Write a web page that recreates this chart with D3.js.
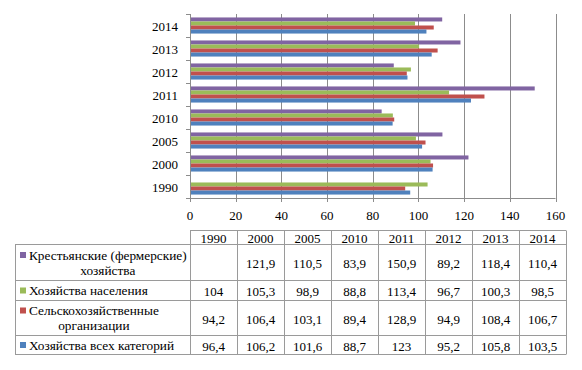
<!DOCTYPE html>
<html><head><meta charset="utf-8">
<script src="https://cdn.jsdelivr.net/npm/d3@7"></script>
<style>body{margin:0;background:#fff}svg{display:block}</style>
</head><body>
<script>
const years = ["1990","2000","2005","2010","2011","2012","2013","2014"];
const seriesNames = ["Крестьянские (фермерские) хозяйства","Хозяйства населения","Сельскохозяйственные организации","Хозяйства всех категорий"];
const seriesLines = [["Крестьянские (фермерские)","хозяйства"],["Хозяйства населения"],["Сельскохозяйственные","организации"],["Хозяйства всех категорий"]];
const seriesColors = ["#8064A2","#9BBB59","#C0504D","#4F81BD"];
const farms = [null,121.9,110.5,83.9,150.9,89.2,118.4,110.4];
const households = [104,105.3,98.9,88.8,113.4,96.7,100.3,98.5];
const agroOrgs = [94.2,106.4,103.1,89.4,128.9,94.9,108.4,106.7];
const allFarms = [96.4,106.2,101.6,88.7,123,95.2,105.8,103.5];
const seriesValues = [farms,households,agroOrgs,allFarms];
const xTicks = [0,20,40,60,80,100,120,140,160];

const FONT="Liberation Serif";
const W=582,H=370;
const svg=d3.select("body").append("svg").attr("width",W).attr("height",H)
  .attr("font-family",FONT);
const x=d3.scaleLinear().domain([0,160]).range([190,555.5]);
const y=d3.scaleBand().domain(years.slice().reverse()).range([14,198]).paddingInner(0.3).paddingOuter(0.15);
const yOuter=d3.scaleBand().domain(years.slice().reverse()).range([14,198]);
const ySub=d3.scaleBand().domain(d3.range(4)).range([0,y.bandwidth()]);
const gc="#8c8c8c";

// gridlines
svg.append("g").selectAll("line").data(xTicks.slice(1)).join("line")
  .attr("x1",d=>Math.round(x(d))+0.5).attr("x2",d=>Math.round(x(d))+0.5).attr("y1",14).attr("y2",198)
  .attr("stroke",gc).attr("stroke-width",1);

// bars
const g=svg.append("g");
years.forEach((yr,i)=>{
  seriesValues.forEach((vals,s)=>{
    const v=vals[i]; if(v==null) return;
    g.append("rect").attr("x",x(0)).attr("y",y(yr)+ySub(s))
     .attr("width",x(v)-x(0)).attr("height",ySub.bandwidth())
     .attr("fill",seriesColors[s]);
  });
});

// left axis
const ya=svg.append("g").attr("transform","translate(190,0)");
ya.append("line").attr("x1",0.5).attr("x2",0.5).attr("y1",14).attr("y2",198).attr("stroke",gc);
const bounds=yOuter.domain().map(d=>yOuter(d)).concat([198]);
ya.selectAll("line.t").data(bounds).join("line").attr("class","t")
  .attr("x1",-4).attr("x2",0.5).attr("y1",d=>Math.round(d)+0.5).attr("y2",d=>Math.round(d)+0.5).attr("stroke",gc);
ya.selectAll("text").data(years).join("text")
  .attr("x",-12).attr("y",d=>yOuter(d)+yOuter.bandwidth()/2+1).attr("dy","0.35em")
  .attr("text-anchor","end").attr("font-size",13).text(d=>d);

// bottom axis
const xa=svg.append("g");
xa.append("line").attr("x1",190).attr("x2",x(160)).attr("y1",198.5).attr("y2",198.5).attr("stroke",gc);
xa.selectAll("line.t").data(xTicks).join("line").attr("class","t")
  .attr("x1",d=>Math.round(x(d))+0.5).attr("x2",d=>Math.round(x(d))+0.5).attr("y1",198).attr("y2",202).attr("stroke",gc);
xa.selectAll("text").data(xTicks).join("text")
  .attr("x",d=>x(d)).attr("y",215).attr("dy","0.35em").attr("text-anchor","middle").attr("font-size",13).text(d=>d);

// data table
const tLeft=15, cLeft=190, cRight=566;
const colW=(cRight-cLeft)/years.length;
const rowTops=[230.5,244.5,280.5,300.5,335.5,354.5];
const tb=svg.append("g");
const bc="#9a9a9a";
tb.append("line").attr("x1",cLeft).attr("x2",cRight).attr("y1",rowTops[0]).attr("y2",rowTops[0]).attr("stroke",bc);
rowTops.slice(1).forEach(yy=>tb.append("line").attr("x1",tLeft).attr("x2",cRight).attr("y1",yy).attr("y2",yy).attr("stroke",bc));
tb.append("line").attr("x1",tLeft+0.5).attr("x2",tLeft+0.5).attr("y1",rowTops[1]).attr("y2",rowTops[5]).attr("stroke",bc);
d3.range(years.length+1).forEach(k=>{
  const xx=Math.round(cLeft+k*colW)+0.5;
  tb.append("line").attr("x1",xx).attr("x2",xx).attr("y1",rowTops[0]).attr("y2",rowTops[5]).attr("stroke",bc);
});
years.forEach((yr,k)=>{
  tb.append("text").attr("x",cLeft+k*colW+colW/2).attr("y",(rowTops[0]+rowTops[1])/2+1).attr("dy","0.35em")
    .attr("text-anchor","middle").attr("font-size",13).text(yr);
});
seriesNames.forEach((nm,s)=>{
  const top=rowTops[s+1], bot=rowTops[s+2], mid=(top+bot)/2;
  const lines=seriesLines[s];
  const lh=15;
  const y0=mid-(lines.length-1)*lh/2;
  tb.append("rect").attr("x",20).attr("y",y0-3).attr("width",6).attr("height",6).attr("fill",seriesColors[s]);
  const tmp=tb.append("text").attr("font-size",13.3).text(lines[0]);
  const w0=tmp.node().getComputedTextLength(); tmp.remove();
  lines.forEach((ln,li)=>{
    tb.append("text").attr("x",29+w0/2).attr("y",y0+li*lh).attr("dy","0.35em")
      .attr("text-anchor","middle").attr("font-size",13.3).text(ln);
  });
  seriesValues[s].forEach((v,k)=>{
    if(v==null) return;
    tb.append("text").attr("x",cLeft+k*colW+colW/2).attr("y",mid+1).attr("dy","0.35em")
      .attr("text-anchor","middle").attr("font-size",13).text(String(v).replace(".",","));
  });
});
</script>
</body></html>
